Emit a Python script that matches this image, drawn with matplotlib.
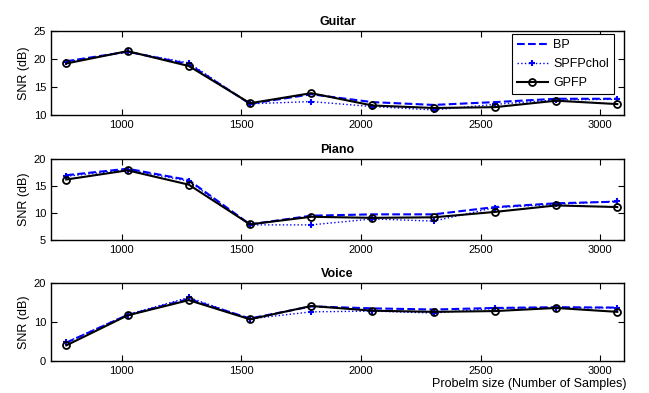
import matplotlib
matplotlib.use('Agg')
import matplotlib.pyplot as plt

plt.rcParams['font.family'] = ['Liberation Sans', 'DejaVu Sans']

sizes = [768, 1024, 1280, 1536, 1792, 2048, 2304, 2560, 2816, 3072]

guitar_bp = [19.6, 21.3, 19.1, 12.0, 13.7, 12.3, 11.8, 12.3, 12.9, 12.9]
guitar_spfp = [19.5, 21.3, 19.3, 12.0, 12.4, 11.5, 10.9, 11.9, 12.7, 12.8]
guitar_gpfp = [19.2, 21.4, 18.75, 12.1, 13.9, 11.7, 11.25, 11.4, 12.55, 11.95]

piano_bp = [17.0, 18.2, 16.1, 7.9, 9.5, 9.75, 9.75, 11.1, 11.8, 12.1]
piano_spfp = [16.8, 18.0, 15.9, 7.8, 7.8, 8.9, 8.5, 11.0, 11.6, 12.2]
piano_gpfp = [16.2, 17.9, 15.25, 7.9, 9.3, 9.1, 9.2, 10.2, 11.4, 11.1]

voice_bp = [4.7, 11.8, 15.9, 10.9, 14.0, 13.5, 13.2, 13.6, 13.8, 13.7]
voice_spfp = [4.8, 11.9, 16.3, 10.8, 12.6, 12.8, 12.3, 13.5, 13.7, 13.6]
voice_gpfp = [4.0, 11.7, 15.6, 10.7, 14.1, 12.9, 12.6, 12.8, 13.6, 12.6]

panels = [
    ('Guitar', guitar_bp, guitar_spfp, guitar_gpfp, (10, 25), [10, 15, 20, 25]),
    ('Piano', piano_bp, piano_spfp, piano_gpfp, (5, 20), [5, 10, 15, 20]),
    ('Voice', voice_bp, voice_spfp, voice_gpfp, (0, 20), [0, 10, 20]),
]

fig = plt.figure(figsize=(6.49, 3.93), dpi=100)
W, H = 649, 393
boxes = [(31, 115), (159, 240), (283, 361)]
left, right = 51, 624

axes = []
for (top, bot), (title, bp, spfp, gpfp, ylim, yt) in zip(boxes, panels):
    ax = fig.add_axes([left / W, 1 - bot / H, (right - left) / W, (bot - top) / H])
    ax.plot(sizes, bp, '--', color='blue', lw=1.5, label='BP')
    ax.plot(sizes, spfp, ':', color='blue', lw=1, marker='+', ms=5, mew=1.5, label='SPFPchol')
    ax.plot(sizes, gpfp, '-', color='black', lw=1.5, marker='o', ms=5, mfc='none', mew=1.3, label='GPFP')
    ax.set_xlim(704, 3100)
    ax.set_ylim(*ylim)
    ax.set_yticks(yt)
    ax.set_xticks([1000, 1500, 2000, 2500, 3000])
    ax.tick_params(direction='in', top=True, right=True, labelsize=8, length=4, width=0.8)
    ax.set_title(title, fontsize=9, fontweight='bold', pad=4)
    ax.set_ylabel('SNR (dB)', fontsize=9, labelpad=3)
    for s in ax.spines.values():
        s.set_linewidth(1)
    axes.append(ax)

leg = axes[0].legend(loc='upper right', bbox_to_anchor=(0.993, 1.035), fontsize=9,
                     fancybox=False, edgecolor='black', framealpha=1,
                     handlelength=2.5, borderpad=0.4, labelspacing=0.55, handletextpad=0.4)
leg.get_frame().set_linewidth(0.8)

axes[2].set_xlabel('Probelm size (Number of Samples)', fontsize=9, labelpad=1)
axes[2].xaxis.set_label_coords(1.005, -0.22)
axes[2].xaxis.label.set_ha('right')

fig.savefig('out.png', dpi=100)
